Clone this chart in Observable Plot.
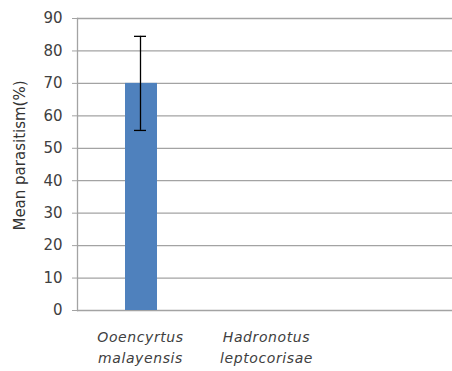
<!DOCTYPE html>
<html><head><meta charset="utf-8">
<script src="https://cdn.jsdelivr.net/npm/d3@7"></script>
<script src="https://cdn.jsdelivr.net/npm/@observablehq/plot@0.6"></script>
<style>body{margin:0;background:#fff} .xl text{letter-spacing:0.6px}</style>
</head><body><div id="chart"></div>
<script>
const categories = ["Ooencyrtus malayensis", "Hadronotus leptocorisae"];
const meanParasitism = [70, 0];
const errors = [14.5, 0];
const yTicks = [0, 10, 20, 30, 40, 50, 60, 70, 80, 90];
const yLabel = "Mean parasitism(%)";

const data = categories.map((c, i) => ({cat: c, v: meanParasitism[i], e: errors[i]}));
const errData = data.filter(d => d.e > 0);

const chart = Plot.plot({
  width: 452, height: 371,
  marginLeft: 77, marginRight: 0, marginTop: 18, marginBottom: 61,
  style: {fontFamily: "DejaVu Sans", fontSize: "14px", color: "#404040", background: "#fff"},
  x: {domain: categories, range: [77, 329], padding: 0},
  y: {domain: [0, 90]},
  marks: [
    Plot.ruleY(yTicks, {stroke: "#a3a3a3", strokeWidth: 1.3}),
    Plot.frame({anchor: "left", stroke: "#a3a3a3", strokeWidth: 1.3}),
    Plot.axisY({ticks: yTicks, tickSize: 5, tickPadding: 10, stroke: "#a3a3a3", label: null, fontSize: 15}),
    Plot.axisX({tickSize: 0, tickPadding: 17, label: null, fontStyle: "italic", fontSize: 14, lineHeight: 1.5,
      className: "xl", tickFormat: d => d.replace(" ", "\n")}),
    Plot.barY(data, {x: "cat", y: "v", fill: "#4F81BD", insetLeft: 48, insetRight: 46}),
    Plot.ruleX(errData, {x: "cat", y1: d => d.v - d.e, y2: d => d.v + d.e, stroke: "#000", strokeWidth: 1.3}),
    Plot.tickY(errData, {x: "cat", y: d => d.v - d.e, stroke: "#000", strokeWidth: 1.3, insetLeft: 57, insetRight: 57}),
    Plot.tickY(errData, {x: "cat", y: d => d.v + d.e, stroke: "#000", strokeWidth: 1.3, insetLeft: 57, insetRight: 57}),
    Plot.text([yLabel], {frameAnchor: "left", textAnchor: "middle", dx: -57, dy: -9, rotate: -90, fontSize: 15, fill: "#333"})
  ]
});
document.getElementById("chart").append(chart);
</script></body></html>
